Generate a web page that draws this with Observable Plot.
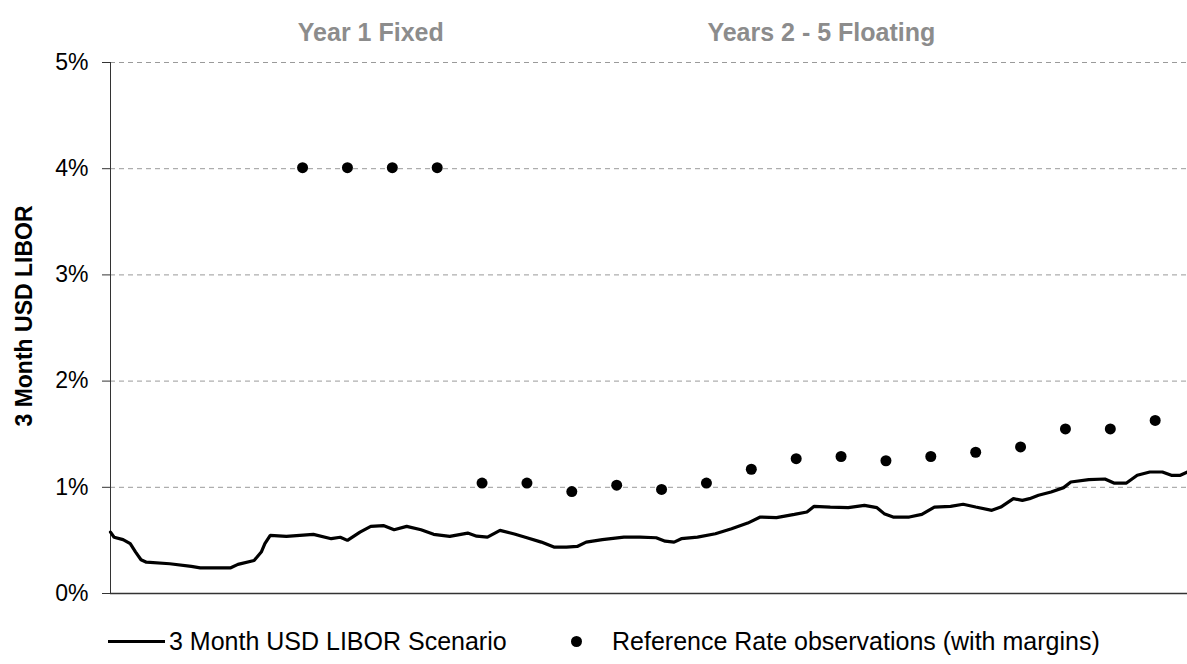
<!DOCTYPE html>
<html>
<head>
<meta charset="utf-8">
<script src="https://cdn.jsdelivr.net/npm/d3@7"></script>
<script src="https://cdn.jsdelivr.net/npm/@observablehq/plot@0.6"></script>
<style>
  html, body { margin: 0; padding: 0; background: #fff; }
  body { width: 1187px; height: 664px; overflow: hidden; font-family: "Liberation Sans", Arial, sans-serif; }
  #legend { position: relative; height: 52px; font-size: 25px; color: #000; }
  #legend > * { position: absolute; }
  .sw-line { left: 108px; top: 28px; width: 57px; height: 3px; background: #000; }
  .lab1 { left: 169px; top: 14px; line-height: 30px; }
  .sw-dot { left: 571px; top: 24px; width: 11px; height: 11px; border-radius: 50%; background: #000; }
  .lab2 { left: 612px; top: 14px; line-height: 30px; }
</style>
</head>
<body>
<div id="chart"></div>
<div id="legend">
  <span class="sw-line"></span><span class="lab1">3 Month USD LIBOR Scenario</span>
  <span class="sw-dot"></span><span class="lab2">Reference Rate observations (with margins)</span>
</div>
<script>
// Scenario path of 3 Month USD LIBOR (time in years, rate in %)
const scenarioYears = [0.00,0.02,0.07,0.11,0.14,0.17,0.20,0.33,0.45,0.50,0.67,0.71,0.80,0.84,0.86,0.89,0.98,1.13,1.23,1.28,1.32,1.39,1.45,1.52,1.58,1.65,1.73,1.80,1.89,1.99,2.04,2.10,2.17,2.25,2.32,2.40,2.47,2.54,2.60,2.65,2.74,2.86,2.95,3.04,3.09,3.14,3.18,3.27,3.37,3.46,3.55,3.62,3.71,3.81,3.88,3.92,4.01,4.11,4.20,4.27,4.31,4.36,4.45,4.52,4.59,4.68,4.75,4.82,4.91,4.96,5.03,5.08,5.12,5.17,5.24,5.31,5.35,5.45,5.54,5.59,5.66,5.72,5.79,5.86,5.91,5.96,6.00];
const scenarioRates = [0.578,0.53,0.507,0.469,0.39,0.318,0.295,0.28,0.255,0.242,0.242,0.274,0.311,0.39,0.469,0.547,0.538,0.557,0.516,0.53,0.50,0.578,0.632,0.64,0.60,0.632,0.60,0.557,0.538,0.569,0.54,0.53,0.594,0.56,0.525,0.484,0.437,0.437,0.443,0.484,0.507,0.531,0.531,0.525,0.493,0.484,0.516,0.531,0.563,0.61,0.663,0.72,0.714,0.745,0.767,0.821,0.814,0.808,0.83,0.808,0.752,0.72,0.72,0.745,0.814,0.821,0.84,0.814,0.783,0.814,0.893,0.877,0.893,0.925,0.956,0.997,1.05,1.073,1.078,1.04,1.04,1.113,1.144,1.144,1.113,1.113,1.144];

// Quarterly reference rate observations
const observationYears = [1.07,1.32,1.57,1.82,2.07,2.32,2.57,2.82,3.07,3.32,3.57,3.82,4.07,4.32,4.57,4.82,5.07,5.32,5.57,5.82];
const observationRates = [4.01,4.01,4.01,4.01,1.04,1.04,0.96,1.02,0.98,1.04,1.17,1.27,1.29,1.25,1.29,1.33,1.38,1.55,1.55,1.63];

const yTicks = [0,1,2,3,4,5];
const headerLabels = ["Year 1 Fixed", "Years 2 - 5 Floating"];
const headerYears = [1.45, 3.96];
const yLabel = "3 Month USD LIBOR";

const scenario = scenarioYears.map((t, i) => ({t, r: scenarioRates[i]}));
const observations = observationYears.map((t, i) => ({t, r: observationRates[i]}));
const headers = headerLabels.map((label, i) => ({label, t: headerYears[i]}));

const chart = Plot.plot({
  width: 1187,
  height: 612,
  marginTop: 62,
  marginBottom: 19,
  marginLeft: 110,
  marginRight: 0,
  style: { fontFamily: "Liberation Sans, Arial, sans-serif", background: "#fff" },
  x: { domain: [0, 6], axis: null },
  y: { domain: [0, 5], axis: null },
  marks: [
    Plot.ruleY(yTicks.filter(d => d > 0), { stroke: "#9a9a9a", strokeWidth: 1, strokeDasharray: "5,4" }),
    Plot.axisY({ ticks: yTicks, tickFormat: d => d + "%", tickSize: 8, tickPadding: 14, fontSize: 23, label: null, stroke: "#333", fill: "#000" }),
    Plot.ruleX([0], { stroke: "#333", strokeWidth: 1 }),
    Plot.ruleY([0], { stroke: "#333", strokeWidth: 1.5 }),
    Plot.line(scenario, { x: "t", y: "r", stroke: "#000", strokeWidth: 3.2, strokeLinejoin: "miter" }),
    Plot.dot(observations, { x: "t", y: "r", r: 5.5, fill: "#000", stroke: "none" }),
    Plot.text(headers, { x: "t", text: "label", frameAnchor: "top", dy: -39, fill: "#8c8c8c", fontWeight: "bold", fontSize: 25 }),
    Plot.text([yLabel], { frameAnchor: "left", textAnchor: "middle", rotate: -90, dx: -86, dy: -12, fontWeight: "bold", fontSize: 23, fill: "#000" })
  ]
});
document.getElementById("chart").appendChild(chart);
</script>
</body>
</html>
